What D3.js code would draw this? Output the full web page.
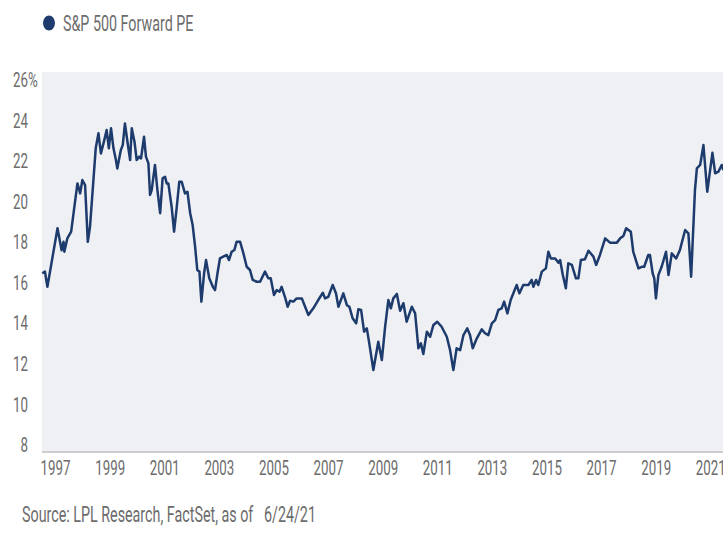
<!DOCTYPE html>
<html>
<head>
<meta charset="utf-8">
<script src="https://cdnjs.cloudflare.com/ajax/libs/d3/7.8.5/d3.min.js"></script>
<style>
  body { margin: 0; background: #fff; overflow: hidden; }
  text { font-family: Roboto, "Noto Sans", sans-serif; fill: #6c6c6c; }
</style>
</head>
<body>
<script>

// series (decimal year, forward P/E)
var years = [
  1996.53, 1996.63, 1996.72, 1997.09, 1997.24, 1997.31, 1997.34, 1997.45, 1997.59, 1997.82,
  1997.92, 1998.00, 1998.10, 1998.20, 1998.28, 1998.49, 1998.59, 1998.68, 1998.79, 1998.89,
  1998.97, 1999.05, 1999.14, 1999.23, 1999.28, 1999.41, 1999.48, 1999.56, 1999.66, 1999.75,
  1999.81, 1999.91, 1999.99, 2000.08, 2000.15, 2000.26, 2000.33, 2000.42, 2000.48, 2000.54,
  2000.66, 2000.75, 2000.85, 2000.94, 2001.03, 2001.09, 2001.15, 2001.27, 2001.36, 2001.46,
  2001.55, 2001.64, 2001.76, 2001.85, 2001.95, 2002.04, 2002.13, 2002.21, 2002.29, 2002.36,
  2002.46, 2002.53, 2002.65, 2002.78, 2002.86, 2002.95, 2003.04, 2003.16, 2003.29, 2003.37,
  2003.47, 2003.57, 2003.65, 2003.78, 2003.90, 2004.02, 2004.14, 2004.24, 2004.39, 2004.51,
  2004.69, 2004.81, 2004.90, 2005.02, 2005.12, 2005.22, 2005.30, 2005.42, 2005.52, 2005.61,
  2005.73, 2005.85, 2006.04, 2006.16, 2006.28, 2006.46, 2006.64, 2006.81, 2006.89, 2007.01,
  2007.17, 2007.29, 2007.38, 2007.56, 2007.69, 2007.78, 2007.90, 2008.03, 2008.11, 2008.21,
  2008.32, 2008.42, 2008.51, 2008.66, 2008.84, 2008.97, 2009.09, 2009.21, 2009.30, 2009.39,
  2009.52, 2009.64, 2009.76, 2009.88, 2010.07, 2010.19, 2010.31, 2010.40, 2010.49, 2010.62,
  2010.74, 2010.86, 2011.00, 2011.16, 2011.35, 2011.47, 2011.59, 2011.71, 2011.84, 2011.96,
  2012.10, 2012.20, 2012.30, 2012.45, 2012.63, 2012.75, 2012.87, 2013.00, 2013.12, 2013.24,
  2013.36, 2013.45, 2013.57, 2013.69, 2013.81, 2013.91, 2014.01, 2014.15, 2014.34, 2014.46,
  2014.52, 2014.62, 2014.70, 2014.83, 2014.98, 2015.07, 2015.16, 2015.32, 2015.44, 2015.50,
  2015.60, 2015.71, 2015.80, 2015.93, 2016.08, 2016.17, 2016.26, 2016.41, 2016.54, 2016.72,
  2016.82, 2016.96, 2017.15, 2017.33, 2017.58, 2017.70, 2017.82, 2017.92, 2018.09, 2018.18,
  2018.37, 2018.49, 2018.58, 2018.73, 2018.79, 2018.89, 2018.95, 2019.01, 2019.10, 2019.22,
  2019.38, 2019.47, 2019.59, 2019.75, 2019.89, 2020.08, 2020.20, 2020.30, 2020.44, 2020.51,
  2020.63, 2020.75, 2020.89, 2021.08, 2021.18, 2021.30, 2021.42, 2021.48
];
var pe = [
  16.47, 16.55, 15.80, 18.69, 17.60, 18.02, 17.53, 18.19, 18.52, 20.90,
  20.41, 21.07, 20.82, 18.02, 18.76, 22.63, 23.37, 22.38, 22.96, 23.53,
  22.63, 23.62, 22.63, 22.05, 21.64, 22.55, 22.79, 23.86, 22.88, 22.05,
  23.62, 22.96, 22.05, 22.22, 22.13, 23.20, 22.22, 21.89, 20.33, 20.57,
  21.81, 20.57, 19.43, 21.15, 21.23, 20.90, 20.90, 19.75, 18.52, 19.75,
  20.98, 20.98, 20.41, 20.49, 19.43, 18.85, 17.78, 16.63, 16.55, 15.07,
  16.47, 17.12, 16.22, 15.80, 15.64, 16.47, 17.20, 17.29, 17.37, 17.12,
  17.53, 17.62, 18.02, 18.02, 17.45, 16.79, 16.63, 16.14, 16.05, 16.05,
  16.55, 16.22, 16.22, 15.40, 15.64, 15.56, 15.80, 15.31, 14.82, 15.11,
  15.07, 15.23, 15.23, 14.82, 14.41, 14.74, 15.15, 15.51, 15.23, 15.31,
  15.89, 15.48, 14.82, 15.48, 14.90, 14.82, 14.25, 14.00, 14.69, 14.66,
  13.59, 13.75, 13.01, 11.70, 13.09, 12.19, 13.83, 15.15, 14.74, 15.23,
  15.45, 14.62, 14.99, 14.08, 14.82, 14.49, 12.77, 13.01, 12.49, 13.59,
  13.34, 13.92, 14.08, 13.83, 13.34, 12.68, 11.70, 12.77, 12.68, 13.42,
  13.75, 13.42, 12.77, 13.26, 13.70, 13.51, 13.42, 14.00, 14.16, 14.66,
  14.74, 15.07, 14.49, 15.15, 15.56, 15.89, 15.48, 15.89, 15.89, 16.14,
  15.80, 16.14, 15.89, 16.55, 16.71, 17.53, 17.20, 17.20, 16.99, 17.12,
  16.38, 15.73, 16.96, 16.88, 16.22, 16.22, 17.12, 17.16, 17.58, 17.29,
  16.88, 17.37, 18.19, 17.98, 17.98, 18.19, 18.31, 18.69, 18.52, 17.53,
  16.71, 16.79, 16.79, 17.37, 17.37, 16.47, 16.22, 15.23, 16.38, 16.79,
  17.53, 16.38, 17.45, 17.20, 17.62, 18.60, 18.44, 16.30, 20.57, 21.64,
  21.81, 22.79, 20.49, 22.41, 21.40, 21.48, 21.81, 21.56
];

var yTicks = [8, 10, 12, 14, 16, 18, 20, 22, 24, 26];
var xTicks = [1997, 1999, 2001, 2003, 2005, 2007, 2009, 2011, 2013, 2015, 2017, 2019, 2021];
var seriesName = "S&P 500 Forward PE";
var sourceNote = "Source: LPL Research, FactSet, as of   6/24/21";

var width = 723, height = 533;
var plotTop = 72, plotBottom = 452, plotLeft = 42;
var squeeze = 0.65;   // the reference type is tall and narrow

var x = d3.scaleLinear().domain([1996.5, 2021.5]).range([41.4, 723.9]);
var y = d3.scaleLinear().domain([8, 26]).range([445, 80]);

var svg = d3.select("body").append("svg")
    .attr("width", width)
    .attr("height", height);

// narrow every text horizontally, keeping its anchor point
function squish(sel) {
  sel.each(function() {
    var t = d3.select(this);
    var x0 = +t.attr("x") || 0;
    t.attr("x", x0 / squeeze).attr("transform", "scale(" + squeeze + ",1)");
  });
}

// plot background
svg.append("rect")
    .attr("x", plotLeft)
    .attr("y", plotTop)
    .attr("width", width + 10 - plotLeft)
    .attr("height", plotBottom - plotTop)
    .attr("fill", "#eff0f4");

// x axis
var xAxis = svg.append("g")
    .attr("transform", "translate(0," + plotBottom + ")")
    .call(d3.axisBottom(x).tickValues(xTicks).tickFormat(d3.format("d"))
      .tickSize(0).tickSizeOuter(0).tickPadding(8.5));
xAxis.select(".domain")
    .attr("d", "M" + plotLeft + ",0H" + (width + 10))
    .attr("stroke", "#cdcdcd").attr("stroke-width", 2);
xAxis.selectAll("text")
    .attr("font-size", 20.5)
    .attr("font-family", null)
    .attr("fill", null)
    .call(squish);

// y axis labels
var yAxis = svg.append("g")
    .attr("transform", "translate(" + plotLeft + ",0)")
    .call(d3.axisLeft(y).tickValues(yTicks).tickSize(0).tickPadding(14));
yAxis.select(".domain").remove();
yAxis.selectAll("text")
    .attr("font-size", 20.5)
    .attr("font-family", null)
    .attr("fill", null)
    .call(squish);
yAxis.selectAll(".tick")
    .filter(function(d) { return d === 26; })
    .append("text")
    .attr("x", -14)
    .attr("dy", "0.32em")
    .attr("font-size", 20.5)
    .attr("text-anchor", "start")
    .text("%")
    .call(squish);

// the line
var line = d3.line()
    .x(function(d, i) { return x(years[i]); })
    .y(function(d) { return y(d); });

svg.append("path")
    .datum(pe)
    .attr("d", line)
    .attr("fill", "none")
    .attr("stroke", "#1d3b6c")
    .attr("stroke-width", 2.5)
    .attr("stroke-linejoin", "round");

// legend
svg.append("ellipse")
    .attr("cx", 49).attr("cy", 23)
    .attr("rx", 6).attr("ry", 7.5)
    .attr("fill", "#1d3b6c");
svg.append("text")
    .attr("x", 63).attr("y", 23)
    .attr("dy", "0.36em")
    .attr("font-size", 22)
    .text(seriesName)
    .call(squish);

// source
svg.append("text")
    .attr("x", 22).attr("y", 522)
    .attr("font-size", 22)
    .style("white-space", "pre")
    .text(sourceNote)
    .call(squish);

</script>
</body>
</html>
